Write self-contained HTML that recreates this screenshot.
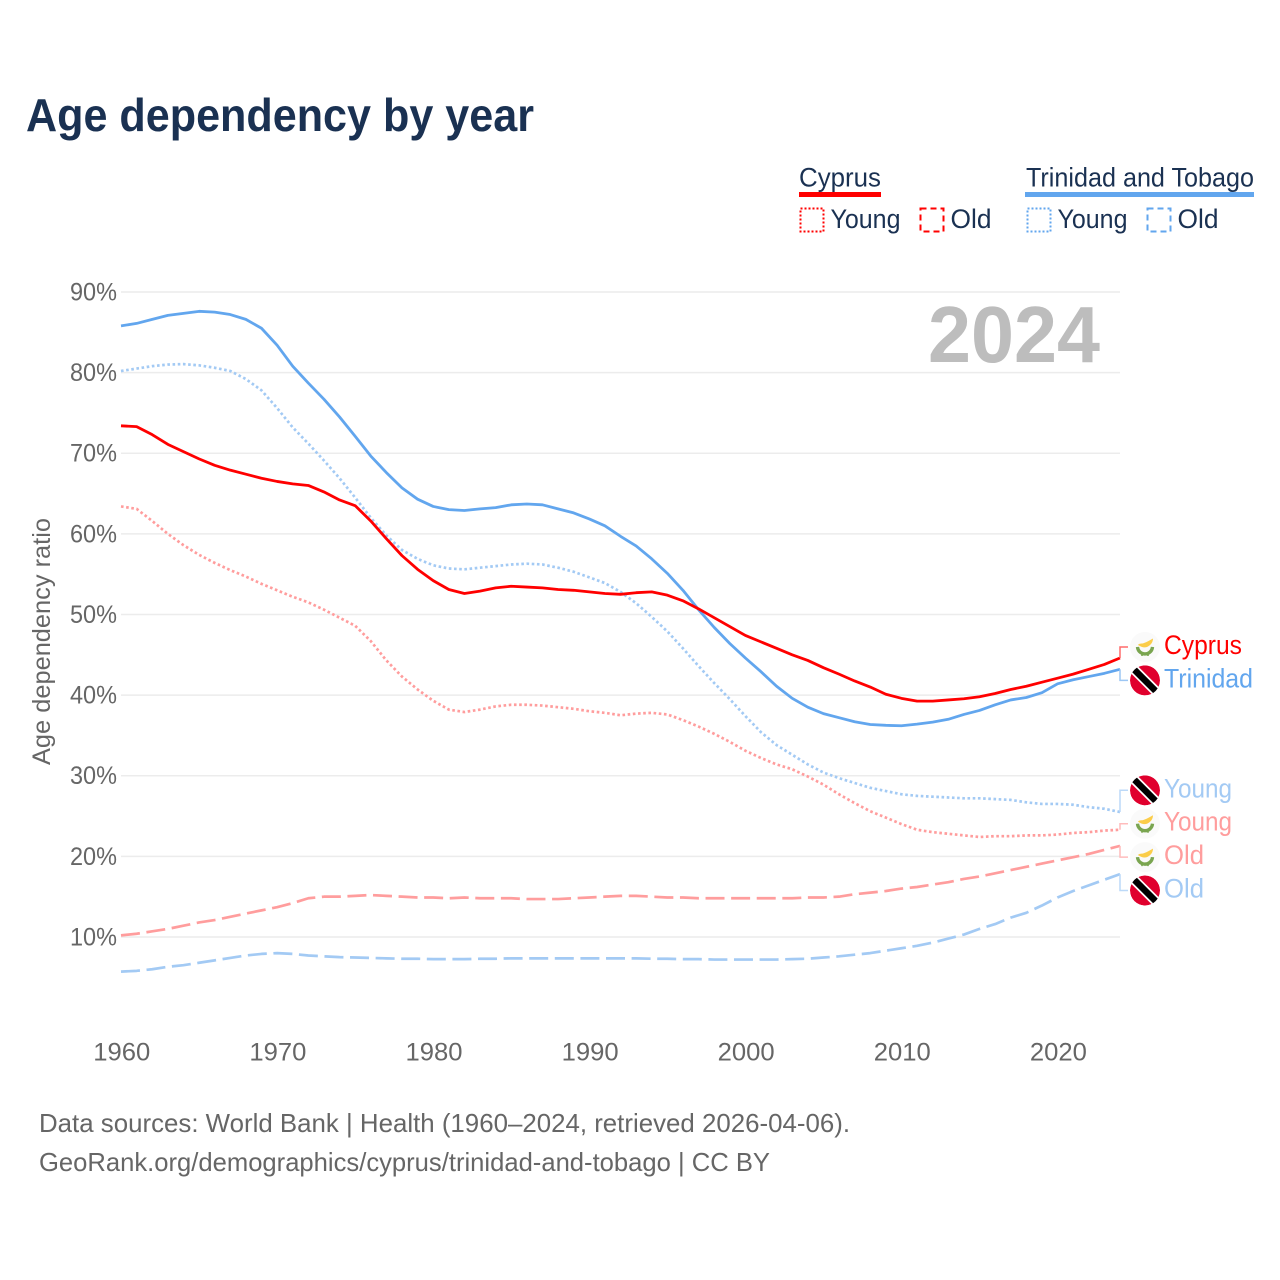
<!DOCTYPE html>
<html>
<head>
<meta charset="utf-8">
<title>Age dependency by year</title>
<style>
html,body{margin:0;padding:0;background:#fff;}
svg{display:block;font-family:"Liberation Sans",sans-serif;}
</style>
</head>
<body>
<svg id="chart" width="1280" height="1280" viewBox="0 0 1280 1280" xmlns="http://www.w3.org/2000/svg">
  <rect width="1280" height="1280" fill="#fff"/>
  <text x="26" y="131" font-size="46" font-weight="700" fill="#1a3152" textLength="508" lengthAdjust="spacingAndGlyphs">Age dependency by year</text>

  <g>
    <text x="799" y="186.5" font-size="27" fill="#1a3152" textLength="82" lengthAdjust="spacingAndGlyphs">Cyprus</text>
    <rect x="799" y="192" width="82" height="5" fill="#ff0000"/>
    <rect x="800.5" y="208.5" width="23" height="23" fill="none" stroke="#ff0000" stroke-width="2" stroke-dasharray="2 2"/>
    <text x="830.5" y="228" font-size="27" fill="#1a3152" textLength="70" lengthAdjust="spacingAndGlyphs">Young</text>
    <rect x="920.5" y="208.5" width="23" height="23" fill="none" stroke="#ff0000" stroke-width="2" stroke-dasharray="6 4"/>
    <text x="950.5" y="228" font-size="27" fill="#1a3152" textLength="41" lengthAdjust="spacingAndGlyphs">Old</text>

    <text x="1026" y="186.5" font-size="27" fill="#1a3152" textLength="228" lengthAdjust="spacingAndGlyphs">Trinidad and Tobago</text>
    <rect x="1025" y="192" width="229" height="5" fill="#62a6ee"/>
    <rect x="1027.5" y="208.5" width="23" height="23" fill="none" stroke="#62a6ee" stroke-width="2" stroke-dasharray="2 2"/>
    <text x="1057.5" y="228" font-size="27" fill="#1a3152" textLength="70" lengthAdjust="spacingAndGlyphs">Young</text>
    <rect x="1147.5" y="208.5" width="23" height="23" fill="none" stroke="#62a6ee" stroke-width="2" stroke-dasharray="6 4"/>
    <text x="1177.5" y="228" font-size="27" fill="#1a3152" textLength="41" lengthAdjust="spacingAndGlyphs">Old</text>
  </g>

  <g id="grid"></g>
  <g id="yticks"></g>
  <g id="xticks"></g>

  <text x="1100" y="362" text-anchor="end" font-size="80" font-weight="700" fill="#bdbdbd" textLength="172" lengthAdjust="spacingAndGlyphs">2024</text>
  <text transform="translate(50 641.5) rotate(-90)" text-anchor="middle" font-size="25" fill="#666" textLength="247" lengthAdjust="spacingAndGlyphs">Age dependency ratio</text>

  <g id="series"></g>
  <g id="endlabels"></g>

  <text x="39" y="1132" font-size="26" fill="#666" textLength="811" lengthAdjust="spacingAndGlyphs">Data sources: World Bank | Health (1960–2024, retrieved 2026-04-06).</text>
  <text x="39" y="1171" font-size="26" fill="#666" textLength="731" lengthAdjust="spacingAndGlyphs">GeoRank.org/demographics/cyprus/trinidad-and-tobago | CC BY</text>
</svg>

<script>
const startYear = 1960;
const xTickYears = [1960, 1970, 1980, 1990, 2000, 2010, 2020];
const yTickValues = [10, 20, 30, 40, 50, 60, 70, 80, 90];

const trinidadTotal = [85.8,86.1,86.6,87.1,87.35,87.6,87.5,87.2,86.6,85.5,83.4,80.8,78.7,76.7,74.5,72.1,69.65,67.6,65.7,64.3,63.4,63.0,62.9,63.1,63.25,63.6,63.7,63.6,63.1,62.6,61.85,61.0,59.7,58.5,56.9,55.1,53.0,50.6,48.4,46.4,44.6,42.9,41.1,39.6,38.5,37.7,37.2,36.7,36.35,36.25,36.2,36.4,36.65,37.0,37.6,38.1,38.8,39.4,39.7,40.3,41.4,41.9,42.3,42.7,43.2];
const trinidadYoung = [80.2,80.5,80.8,81.0,81.05,80.9,80.6,80.2,79.2,77.8,75.6,73.2,71.2,69.1,66.9,64.5,62.0,59.8,58.0,56.9,56.1,55.7,55.6,55.8,56.0,56.2,56.3,56.2,55.8,55.3,54.6,53.9,52.8,51.4,49.7,47.9,45.8,43.6,41.5,39.5,37.4,35.4,33.8,32.6,31.4,30.4,29.7,29.1,28.5,28.1,27.7,27.5,27.4,27.3,27.2,27.2,27.1,27.0,26.7,26.5,26.5,26.4,26.1,25.9,25.5];
const trinidadOld = [5.7,5.8,6.0,6.3,6.5,6.8,7.1,7.4,7.7,7.9,8.0,7.9,7.7,7.6,7.5,7.45,7.4,7.35,7.3,7.3,7.25,7.25,7.25,7.3,7.3,7.35,7.35,7.35,7.35,7.35,7.35,7.35,7.35,7.35,7.3,7.3,7.25,7.25,7.2,7.2,7.2,7.2,7.2,7.25,7.3,7.45,7.6,7.8,8.0,8.3,8.6,8.9,9.3,9.8,10.3,11.0,11.6,12.4,13.0,13.9,14.9,15.7,16.4,17.1,17.8];
const cyprusTotal = [73.4,73.3,72.3,71.1,70.2,69.3,68.5,67.9,67.4,66.9,66.5,66.2,66.0,65.2,64.2,63.5,61.6,59.4,57.3,55.6,54.2,53.1,52.6,52.9,53.3,53.5,53.4,53.3,53.1,53.0,52.8,52.6,52.5,52.7,52.8,52.4,51.7,50.7,49.6,48.5,47.4,46.6,45.8,45.0,44.3,43.4,42.6,41.75,41.0,40.1,39.6,39.25,39.25,39.4,39.55,39.8,40.2,40.7,41.1,41.6,42.1,42.6,43.2,43.8,44.6];
const cyprusYoung = [63.4,63.1,61.6,60.0,58.6,57.4,56.4,55.5,54.7,53.8,53.0,52.2,51.5,50.6,49.6,48.6,46.7,44.3,42.3,40.7,39.3,38.2,37.9,38.2,38.6,38.8,38.8,38.7,38.5,38.3,38.0,37.8,37.5,37.7,37.8,37.6,36.9,36.1,35.2,34.2,33.1,32.2,31.4,30.8,29.9,28.9,27.7,26.6,25.6,24.8,24.0,23.3,23.0,22.8,22.6,22.4,22.5,22.5,22.6,22.6,22.7,22.9,23.0,23.2,23.3];
const cyprusOld = [10.2,10.4,10.7,11.0,11.4,11.8,12.1,12.5,12.9,13.3,13.7,14.2,14.8,15.0,15.0,15.1,15.2,15.1,15.0,14.9,14.9,14.8,14.9,14.8,14.8,14.8,14.7,14.7,14.7,14.8,14.9,15.0,15.1,15.1,15.0,14.9,14.9,14.8,14.8,14.8,14.8,14.8,14.8,14.8,14.9,14.9,15.0,15.3,15.5,15.7,16.0,16.2,16.5,16.8,17.2,17.5,17.9,18.3,18.7,19.1,19.5,19.9,20.3,20.8,21.3];

const SVGNS = 'http://www.w3.org/2000/svg';
const plotLeft = 121, plotRight = 1120;
const xScale = year => plotLeft + (year - startYear) * (plotRight - plotLeft) / 64;
const yScale = value => 1017.6 - value * 8.0625;
const RED = '#ff0000', BLUE = '#62a6ee', LIGHT_RED = '#ff9d9d', LIGHT_BLUE = '#a3caf4';
const LABEL_GAP = 33.4;

function make(tag, attrs, parent, text) {
  const el = document.createElementNS(SVGNS, tag);
  for (const k in attrs) el.setAttribute(k, attrs[k]);
  if (text !== undefined) el.textContent = text;
  parent.appendChild(el);
  return el;
}

const gridG = document.getElementById('grid');
const yTickG = document.getElementById('yticks');
const xTickG = document.getElementById('xticks');
const seriesG = document.getElementById('series');
const labelG = document.getElementById('endlabels');

yTickValues.forEach(v => {
  const line = make('line', {x1: plotLeft, x2: plotRight, y1: yScale(v), y2: yScale(v), stroke: '#ececec', 'stroke-width': 1.5}, gridG);
  
  
  const t = make('text', {x: 117, y: yScale(v) + 8.5, 'text-anchor': 'end', 'font-size': 25, fill: '#666', textLength: 47, lengthAdjust: 'spacingAndGlyphs'}, yTickG, v + '%');
  
  
});

xTickYears.forEach(y => {
  const t = make('text', {x: xScale(y) + 0.8, y: 1060.5, 'text-anchor': 'middle', 'font-size': 25, fill: '#666', textLength: 57, lengthAdjust: 'spacingAndGlyphs'}, xTickG, String(y));
  
  
});

const seriesDefs = [
  {key: 'cyprus-old', values: cyprusOld, color: LIGHT_RED, dash: '19 6.6', width: 2.7},
  {key: 'trinidad-old', values: trinidadOld, color: LIGHT_BLUE, dash: '19 6.6', width: 2.7},
  {key: 'cyprus-young', values: cyprusYoung, color: LIGHT_RED, dash: '2.6 2.6', width: 2.7},
  {key: 'trinidad-young', values: trinidadYoung, color: LIGHT_BLUE, dash: '2.6 2.6', width: 2.7},
  {key: 'trinidad-total', values: trinidadTotal, color: BLUE, dash: null, width: 2.8},
  {key: 'cyprus-total', values: cyprusTotal, color: RED, dash: null, width: 2.8}
];

seriesDefs.forEach(s => {
  const d = s.values.map((v, i) => (i ? 'L' : 'M') + xScale(startYear + i).toFixed(2) + ' ' + yScale(v).toFixed(2)).join(' ');
  const attrs = {d: d, fill: 'none', stroke: s.color, 'stroke-width': s.width, 'stroke-linejoin': 'round'};
  if (s.dash) attrs['stroke-dasharray'] = s.dash;
  const p = make('path', attrs, seriesG);
  
  
});

const endDefs = [
  {key: 'cyprus-total', text: 'Cyprus', values: cyprusTotal, color: RED, conn: '#ff6b6b', flag: 'cy', w: 78},
  {key: 'trinidad-total', text: 'Trinidad', values: trinidadTotal, color: BLUE, conn: '#9cc6f4', flag: 'tt', w: 89},
  {key: 'trinidad-young', text: 'Young', values: trinidadYoung, color: LIGHT_BLUE, conn: '#bcd9f8', flag: 'tt', w: 68},
  {key: 'cyprus-young', text: 'Young', values: cyprusYoung, color: LIGHT_RED, conn: '#ffbcbc', flag: 'cy', w: 68},
  {key: 'cyprus-old', text: 'Old', values: cyprusOld, color: LIGHT_RED, conn: '#ffbcbc', flag: 'cy', w: 40},
  {key: 'trinidad-old', text: 'Old', values: trinidadOld, color: LIGHT_BLUE, conn: '#bcd9f8', flag: 'tt', w: 40}
];

/* dodge labels: merge overlapping clusters and centre each on its mean */
function dodge(items) {
  items.sort((a, b) => a.end - b.end);
  let clusters = items.map(it => ({members: [it], mean: it.end}));
  let changed = true;
  const top = c => c.mean - (c.members.length - 1) * LABEL_GAP / 2;
  const bottom = c => c.mean + (c.members.length - 1) * LABEL_GAP / 2;
  while (changed) {
    changed = false;
    for (let i = 0; i < clusters.length - 1; i++) {
      if (bottom(clusters[i]) + LABEL_GAP > top(clusters[i + 1])) {
        const members = clusters[i].members.concat(clusters[i + 1].members);
        const mean = members.reduce((s, m) => s + m.end, 0) / members.length;
        clusters.splice(i, 2, {members: members, mean: mean});
        changed = true;
        break;
      }
    }
  }
  clusters.forEach(c => c.members.forEach((m, i) => { m.labelY = top(c) + i * LABEL_GAP; }));
}

endDefs.forEach(e => { e.end = yScale(e.values[e.values.length - 1]); });
dodge(endDefs);

function drawFlag(kind, cy, parent, name) {
  const g = make('g', {transform: 'translate(1145 ' + cy + ')'}, parent);
  
  
  if (kind === 'cy') {
    make('circle', {r: 15, fill: '#fafafa'}, g);
    make('path', {d: 'M-7 -2 C-6 -4 -3 -3 -1 -4 C2 -5 5 -7 8 -8.5 C8 -5 6 -2 2 0 C-1 1 -4 0 -7 -2 Z', fill: '#fbcd4a'}, g);
    make('path', {d: 'M-7.5 0 C-7 5 -3 7 0 7 C3 7 7 5 7.5 0', fill: 'none', stroke: '#7aa550', 'stroke-width': 3.4}, g);
    make('path', {d: 'M-3 7 V9 M3 7 V9', fill: 'none', stroke: '#7aa550', 'stroke-width': 1.6}, g);
  } else {
    const clip = 'ttclip' + Math.round(cy);
    const cp = make('clipPath', {id: clip}, g);
    make('circle', {r: 15}, cp);
    const inner = make('g', {'clip-path': 'url(#' + clip + ')'}, g);
    make('circle', {r: 15, fill: '#e0002d'}, inner);
    make('line', {x1: -16, y1: -16, x2: 16, y2: 16, stroke: '#fff', 'stroke-width': 10}, inner);
    make('line', {x1: -16, y1: -16, x2: 16, y2: 16, stroke: '#000', 'stroke-width': 6.5}, inner);
  }
}

endDefs.forEach(e => {
  const c = make('path', {d: 'M1120 ' + e.end.toFixed(1) + ' V' + e.labelY.toFixed(1) + ' H1128', fill: 'none', stroke: e.conn, 'stroke-width': 1.5}, labelG);
  
  
  drawFlag(e.flag, e.labelY, labelG, 'flag-' + e.key);
  const t = make('text', {x: 1164, y: e.labelY + 7, 'font-size': 27, fill: e.color, textLength: e.w, lengthAdjust: 'spacingAndGlyphs'}, labelG, e.text);
  
  
});
</script>
</body>
</html>
